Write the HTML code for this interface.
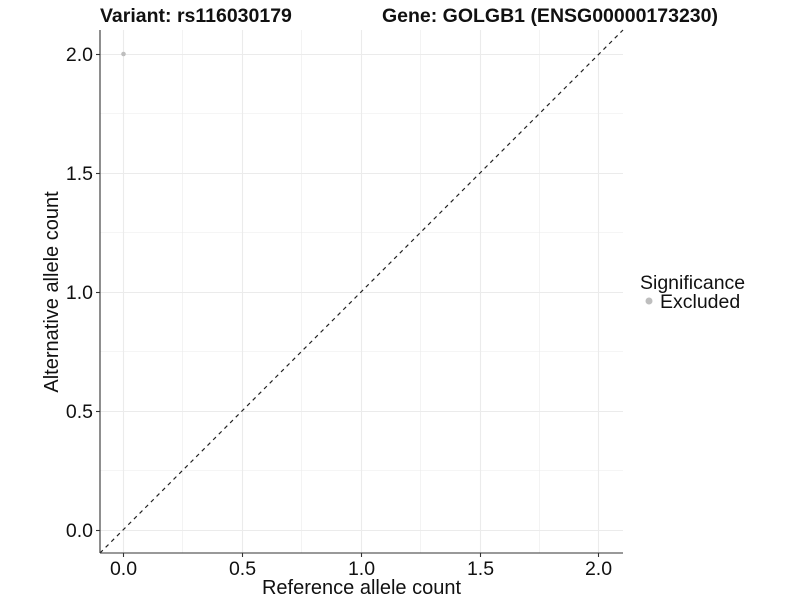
<!DOCTYPE html>
<html><head><style>html,body{margin:0;padding:0;background:#fff}</style></head><body>
<svg width="800" height="600" xmlns="http://www.w3.org/2000/svg" font-family="Liberation Sans, Arial, sans-serif">
<rect width="800" height="600" fill="#fff"/>
<g stroke="#ebebeb" stroke-width="0.6">
<line x1="182.5" y1="30" x2="182.5" y2="553"/><line x1="301.5" y1="30" x2="301.5" y2="553"/><line x1="420.5" y1="30" x2="420.5" y2="553"/><line x1="539.5" y1="30" x2="539.5" y2="553"/>
<line x1="100" y1="113.5" x2="623" y2="113.5"/><line x1="100" y1="232.5" x2="623" y2="232.5"/><line x1="100" y1="351.5" x2="623" y2="351.5"/><line x1="100" y1="470.5" x2="623" y2="470.5"/>
</g>
<g stroke="#ebebeb" stroke-width="1.1">
<line x1="123.5" y1="30" x2="123.5" y2="553"/><line x1="242.5" y1="30" x2="242.5" y2="553"/><line x1="361.5" y1="30" x2="361.5" y2="553"/><line x1="480.5" y1="30" x2="480.5" y2="553"/><line x1="598.5" y1="30" x2="598.5" y2="553"/>
<line x1="100" y1="54.5" x2="623" y2="54.5"/><line x1="100" y1="173.5" x2="623" y2="173.5"/><line x1="100" y1="292.5" x2="623" y2="292.5"/><line x1="100" y1="411.5" x2="623" y2="411.5"/><line x1="100" y1="530.5" x2="623" y2="530.5"/>
</g>
<line x1="100" y1="553" x2="623" y2="30" stroke="#222" stroke-width="1.2" stroke-dasharray="4,4"/>
<circle cx="123.5" cy="54" r="2.3" fill="#bebebe"/>
<g stroke="#333" stroke-width="1.1">
<line x1="100" y1="30" x2="100" y2="553"/><line x1="100" y1="553" x2="623" y2="553"/>
<line x1="96" y1="54.5" x2="100" y2="54.5"/><line x1="96" y1="173.5" x2="100" y2="173.5"/><line x1="96" y1="292.5" x2="100" y2="292.5"/><line x1="96" y1="411.5" x2="100" y2="411.5"/><line x1="96" y1="530.5" x2="100" y2="530.5"/>
<line x1="123.5" y1="553" x2="123.5" y2="557"/><line x1="242.5" y1="553" x2="242.5" y2="557"/><line x1="361.5" y1="553" x2="361.5" y2="557"/><line x1="480.5" y1="553" x2="480.5" y2="557"/><line x1="598.5" y1="553" x2="598.5" y2="557"/>
</g>
<g font-size="19.5" fill="#111" text-anchor="end">
<text x="93" y="61">2.0</text><text x="93" y="180">1.5</text><text x="93" y="299">1.0</text><text x="93" y="418">0.5</text><text x="93" y="537">0.0</text>
</g>
<g font-size="19.5" fill="#111" text-anchor="middle">
<text x="123.5" y="575">0.0</text><text x="242.5" y="575">0.5</text><text x="361.5" y="575">1.0</text><text x="480.5" y="575">1.5</text><text x="598.5" y="575">2.0</text>
<text x="361.5" y="594" font-size="20">Reference allele count</text>
<text transform="translate(58,292) rotate(-90)" font-size="20">Alternative allele count</text>
</g>
<text x="100" y="22" font-size="19.5" font-weight="bold" fill="#111">Variant: rs116030179</text>
<text x="382" y="22" font-size="19.5" font-weight="bold" fill="#111">Gene: GOLGB1 (ENSG00000173230)</text>
<text x="640" y="289" font-size="19.5" fill="#111">Significance</text>
<circle cx="649" cy="301" r="3.5" fill="#bebebe"/>
<text x="660" y="308" font-size="19.5" fill="#111">Excluded</text>
</svg>
</body></html>
